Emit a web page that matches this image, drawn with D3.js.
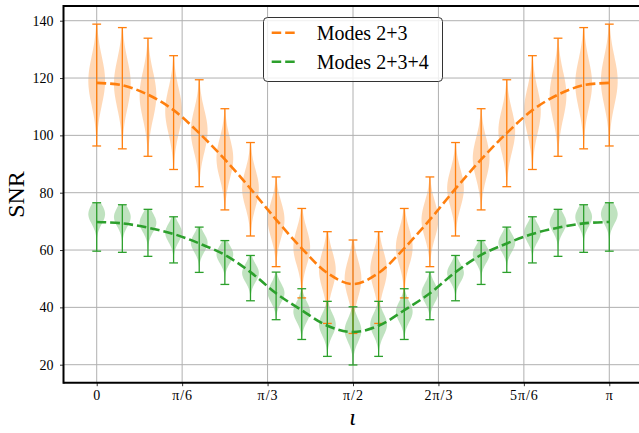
<!DOCTYPE html>
<html>
<head>
<meta charset="utf-8">
<script src="https://cdn.jsdelivr.net/npm/d3@7"></script>
<style>
  body { margin: 0; background: #fff; }
  svg { display: block; }
  text { font-family: "Liberation Serif", "DejaVu Serif", serif; fill: #000; }
</style>
</head>
<body>
<div id="chart"></div>
<script>
// inclination angle iota, in degrees (0 .. 180, steps of 9)
var angles = [0, 9, 18, 27, 36, 45, 54, 63, 72, 81, 90, 99, 108, 117, 126, 135, 144, 153, 162, 171, 180];

// Modes 2+3
var m23Median = [118.3, 117.5, 114.2, 108.8, 100.8, 91.6, 81.4, 70.6, 60.6, 52.0, 48.1, 52.0, 60.6, 70.6, 81.4, 91.6, 100.8, 108.8, 114.2, 117.5, 118.3];
var m23Peak   = [119, 118, 114, 108.5, 101.5, 92, 81.5, 70.5, 61, 53, 50, 53, 61, 70.5, 81.5, 92, 101.5, 108.5, 114, 118, 119];
var m23Max    = [138.8, 137.6, 133.9, 127.8, 119.4, 109.3, 97.5, 85.5, 74.5, 66.4, 63.5, 66.4, 74.5, 85.5, 97.5, 109.3, 119.4, 127.8, 133.9, 137.6, 138.8];
var m23Min    = [96.3, 95.3, 92.7, 88.1, 82.1, 74.0, 64.9, 54.2, 43.3, 34.4, 30.9, 34.4, 43.3, 54.2, 64.9, 74.0, 82.1, 88.1, 92.7, 95.3, 96.3];

// Modes 2+3+4
var m234Median = [69.8, 69.3, 67.8, 65.6, 62.3, 58.3, 52.3, 44.9, 39.0, 33.6, 31.4, 33.6, 39.0, 44.9, 52.3, 58.3, 62.3, 65.6, 67.8, 69.3, 69.8];
var m234Peak   = [72.5, 71.5, 69.5, 66, 62.5, 58.5, 52, 45, 38.5, 34, 32, 34, 38.5, 45, 52, 58.5, 62.5, 66, 69.5, 71.5, 72.5];
var m234Max    = [76.5, 75.8, 74.2, 71.6, 68.0, 63.3, 58.1, 52.3, 46.5, 42.1, 40.2, 42.1, 46.5, 52.3, 58.1, 63.3, 68.0, 71.6, 74.2, 75.8, 76.5];
var m234Min    = [59.6, 59.2, 57.8, 55.5, 52.2, 48.0, 42.3, 35.7, 28.8, 22.9, 19.9, 22.9, 28.8, 35.7, 42.3, 48.0, 52.2, 55.5, 57.8, 59.2, 59.6];

var xTickValues = [0, 30, 60, 90, 120, 150, 180];
var xTickLabels = ["0", "π/6", "π/3", "π/2", "2π/3", "5π/6", "π"];
var yTickValues = [20, 40, 60, 80, 100, 120, 140];

var seriesNames = ["Modes 2+3", "Modes 2+3+4"];
var seriesColors = ["#ff7f0e", "#2ca02c"];

var width = 639, height = 433;
var plotLeft = 63.5, plotTop = 6, plotBottom = 382.7, plotRight = 642.5;

var svg = d3.select("#chart").append("svg")
    .attr("width", width)
    .attr("height", height);

var x = d3.scaleLinear().domain([-11.66, 191.66]).range([plotLeft, plotRight]);
var y = d3.scaleLinear().domain([13.72, 145.13]).range([plotBottom, plotTop]);

var series = [
    {name: seriesNames[0], color: seriesColors[0], med: m23Median, peak: m23Peak, max: m23Max, min: m23Min},
    {name: seriesNames[1], color: seriesColors[1], med: m234Median, peak: m234Peak, max: m234Max, min: m234Min}
];

// violin bodies
var halfWidth = 2.95; // degrees
var area = d3.area()
    .y(function(d) { return y(d.v); })
    .x0(function(d) { return x(d.a - d.w); })
    .x1(function(d) { return x(d.a + d.w); })
    .curve(d3.curveBasis);

series.forEach(function(s) {
    var g = svg.append("g");
    angles.forEach(function(a, i) {
        var lo = s.min[i], hi = s.max[i], pk = s.peak[i];
        var sigma = (hi - lo) / 5;
        var pts = d3.range(41).map(function(k) {
            var v = lo + (hi - lo) * k / 40;
            var w = halfWidth * Math.exp(-0.5 * Math.pow((v - pk) / sigma, 2));
            return {a: a, v: v, w: w};
        });
        g.append("path")
            .attr("d", area(pts))
            .attr("fill", s.color)
            .attr("fill-opacity", 0.3);
    });
});

// grid, above the violin fills
var grid = svg.append("g").attr("stroke", "#b0b0b0").attr("stroke-width", 1);
xTickValues.forEach(function(t) {
    grid.append("line").attr("x1", x(t)).attr("x2", x(t)).attr("y1", plotTop).attr("y2", plotBottom);
});
yTickValues.forEach(function(t) {
    grid.append("line").attr("x1", plotLeft).attr("x2", width).attr("y1", y(t)).attr("y2", y(t));
});

// extrema bars with caps
series.forEach(function(s) {
    var g = svg.append("g").attr("stroke", s.color).attr("stroke-width", 1.3);
    angles.forEach(function(a, i) {
        var cx = x(a);
        g.append("line").attr("x1", cx).attr("x2", cx).attr("y1", y(s.min[i])).attr("y2", y(s.max[i]));
        g.append("line").attr("x1", cx - 4.4).attr("x2", cx + 4.4).attr("y1", y(s.min[i])).attr("y2", y(s.min[i]));
        g.append("line").attr("x1", cx - 4.4).attr("x2", cx + 4.4).attr("y1", y(s.max[i])).attr("y2", y(s.max[i]));
    });
});

// dashed median curves
var line = d3.line()
    .x(function(d) { return x(d[0]); })
    .y(function(d) { return y(d[1]); })
    .curve(d3.curveCatmullRom);

series.forEach(function(s) {
    svg.append("path")
        .attr("d", line(angles.map(function(a, i) { return [a, s.med[i]]; })))
        .attr("fill", "none")
        .attr("stroke", s.color)
        .attr("stroke-width", 2.6)
        .attr("stroke-dasharray", "9.5,4");
});

// axes
var xAxis = svg.append("g")
    .attr("transform", "translate(0," + plotBottom + ")")
    .call(d3.axisBottom(x).tickValues(xTickValues).tickSize(3.5).tickPadding(4)
        .tickFormat(function(d, i) { return xTickLabels[i]; }));
var yAxis = svg.append("g")
    .attr("transform", "translate(" + plotLeft + ",0)")
    .call(d3.axisLeft(y).tickValues(yTickValues).tickSize(3.5).tickPadding(6.5));

[xAxis, yAxis].forEach(function(ax) {
    ax.select(".domain").remove();
    ax.selectAll(".tick line").attr("stroke", "#000").attr("stroke-width", 0.8);
    ax.selectAll(".tick text")
        .style("font-family", '"Liberation Serif", serif')
        .style("font-size", "14px");
});
xAxis.selectAll(".tick text").attr("letter-spacing", "1px");

// spines
var spines = svg.append("g").attr("stroke", "#000").attr("stroke-width", 2).attr("fill", "none");
spines.append("line").attr("x1", plotLeft).attr("x2", width).attr("y1", plotTop).attr("y2", plotTop);
spines.append("line").attr("x1", plotLeft).attr("x2", width).attr("y1", plotBottom).attr("y2", plotBottom);
spines.append("line").attr("x1", plotLeft).attr("x2", plotLeft).attr("y1", plotTop - 1).attr("y2", plotBottom + 1);

// axis labels
svg.append("text")
    .attr("transform", "translate(24,194.5) rotate(-90)")
    .attr("text-anchor", "middle")
    .style("font-size", "24px")
    .text("SNR");

svg.append("text")
    .attr("x", 352.7)
    .attr("y", 424.5)
    .attr("text-anchor", "middle")
    .style("font-size", "24px")
    .style("font-style", "italic")
    .text("ι");

// legend
var legend = svg.append("g");
legend.append("rect")
    .attr("x", 263.5).attr("y", 17.5)
    .attr("width", 179).attr("height", 64)
    .attr("rx", 4)
    .attr("fill", "#fff").attr("fill-opacity", 0.8)
    .attr("stroke", "#333").attr("stroke-width", 1);

series.forEach(function(s, i) {
    var ly = 32.7 + i * 29;
    legend.append("line")
        .attr("x1", 271.7).attr("x2", 296)
        .attr("y1", ly).attr("y2", ly)
        .attr("stroke", s.color)
        .attr("stroke-width", 2.6)
        .attr("stroke-dasharray", "9.5,4");
    legend.append("text")
        .attr("x", 316.7)
        .attr("y", ly + 7.5)
        .style("font-size", "20px")
        .text(s.name);
});
</script>
</body>
</html>
